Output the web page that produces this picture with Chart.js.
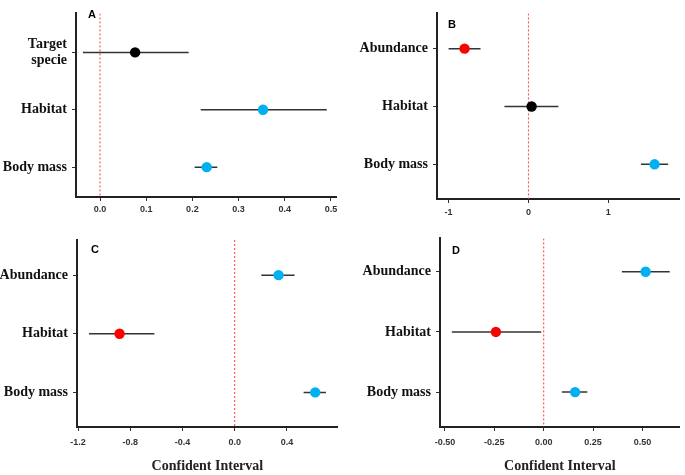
<!DOCTYPE html>
<html><head><meta charset="utf-8">
<script src="https://cdn.jsdelivr.net/npm/chart.js@4.4.0/dist/chart.umd.min.js"></script>
<style>
html,body{margin:0;padding:0;background:#fff;}
#wrap{position:relative;width:685px;height:475px;overflow:hidden;background:#fff;}
canvas{position:absolute;}
</style></head><body>
<div id="wrap">
<canvas id="cA" style="left:0;top:0" width="343" height="225"></canvas>
<canvas id="cB" style="left:343px;top:0" width="342" height="225"></canvas>
<canvas id="cC" style="left:0;top:225px" width="343" height="250"></canvas>
<canvas id="cD" style="left:343px;top:225px" width="342" height="250"></canvas>
</div>
<script>
// ---- Panel A ----
const catsA = ['Target specie', 'Habitat', 'Body mass'];
const estA = [0.076, 0.353, 0.231];
const lowA = [-0.037, 0.218, 0.205];
const highA = [0.192, 0.491, 0.254];
const colA = ['#000000', '#00B0F0', '#00B0F0'];
const ticksA = [0, 0.1, 0.2, 0.3, 0.4, 0.5];
const tickLabelsA = ['0.0', '0.1', '0.2', '0.3', '0.4', '0.5'];

// ---- Panel B ----
const catsB = ['Abundance', 'Habitat', 'Body mass'];
const estB = [-0.80, 0.04, 1.58];
const lowB = [-1.00, -0.30, 1.41];
const highB = [-0.60, 0.375, 1.75];
const colB = ['#FF0000', '#000000', '#00B0F0'];
const ticksB = [-1, 0, 1];
const tickLabelsB = ['-1', '0', '1'];

// ---- Panel C ----
const catsC = ['Abundance', 'Habitat', 'Body mass'];
const estC = [0.336, -0.882, 0.617];
const lowC = [0.204, -1.116, 0.528];
const highC = [0.459, -0.615, 0.699];
const colC = ['#00B0F0', '#FF0000', '#00B0F0'];
const ticksC = [-1.2, -0.8, -0.4, 0.0, 0.4];
const tickLabelsC = ['-1.2', '-0.8', '-0.4', '0.0', '0.4'];

// ---- Panel D ----
const catsD = ['Abundance', 'Habitat', 'Body mass'];
const estD = [0.516, -0.242, 0.159];
const lowD = [0.396, -0.465, 0.092];
const highD = [0.638, -0.013, 0.221];
const colD = ['#00B0F0', '#FF0000', '#00B0F0'];
const ticksD = [-0.50, -0.25, 0.00, 0.25, 0.50];
const tickLabelsD = ['-0.50', '-0.25', '0.00', '0.25', '0.50'];

const xTitle = 'Confident Interval';

const letterPlugin = {
  id: 'panelLetter',
  afterDraw(chart, args, opts) {
    const {ctx, chartArea} = chart;
    ctx.save();
    ctx.font = 'bold 11px "Liberation Sans", Arial, sans-serif';
    ctx.fillStyle = '#000';
    ctx.textAlign = 'left';
    ctx.textBaseline = 'alphabetic';
    ctx.fillText(opts.text, chartArea.left + opts.dx, chartArea.top + opts.dy);
    ctx.restore();
  }
};

function wrapLabel(s) {
  return s.length > 10 ? s.split(' ') : s;
}

function makePanel(id, d, L) {
  const datasets = [];
  datasets.push({
    data: d.est.map((v, i) => ({x: v, y: i + 1})),
    pointRadius: 5.2,
    pointHoverRadius: 5.2,
    pointBackgroundColor: d.col,
    pointBorderColor: d.col,
    pointBorderWidth: 0,
    showLine: false,
    order: 0
  });
  d.est.forEach((v, i) => {
    datasets.push({
      data: [{x: d.low[i], y: i + 1}, {x: d.high[i], y: i + 1}],
      showLine: true,
      borderColor: '#333333',
      borderWidth: 1.5,
      pointRadius: 0,
      order: 1
    });
  });
  datasets.push({
    data: [{x: 0, y: L.yMin}, {x: 0, y: L.yMax}],
    showLine: true,
    borderColor: '#FF3B3B',
    borderWidth: 1,
    borderDash: [2, 2],
    pointRadius: 0,
    order: 2
  });

  new Chart(document.getElementById(id), {
    type: 'scatter',
    data: {datasets},
    options: {
      responsive: false,
      animation: false,
      events: [],
      layout: {padding: L.padding},
      plugins: {
        legend: {display: false},
        tooltip: {enabled: false},
        panelLetter: {text: L.letter, dx: L.ldx, dy: L.ldy}
      },
      scales: {
        x: {
          type: 'linear',
          min: L.xMin, max: L.xMax,
          afterBuildTicks: (s) => { s.ticks = d.ticks.map(v => ({value: v})); },
          afterFit: (s) => { s.height = L.xHeight; },
          grid: {display: true, drawOnChartArea: false, drawTicks: true, tickLength: 4, color: '#333', lineWidth: 1},
          border: {display: true, color: '#222', width: 2},
          ticks: {
            autoSkip: false, maxRotation: 0,
            padding: L.xPad,
            color: '#333',
            font: {family: '"Liberation Sans", Arial, sans-serif', size: 9, weight: 'bold'},
            callback: (v, i) => d.tickLabels[i]
          },
          title: {
            display: !!L.title, text: L.title || '',
            color: '#222',
            font: {family: '"Liberation Serif", "Times New Roman", serif', size: 14, weight: 'bold'},
            padding: {top: 0, bottom: 0}
          }
        },
        y: {
          type: 'linear',
          reverse: true,
          min: L.yMin, max: L.yMax,
          afterBuildTicks: (s) => { s.ticks = d.cats.map((c, i) => ({value: i + 1})); },
          afterFit: (s) => { s.width = L.yWidth; },
          grid: {display: true, drawOnChartArea: false, drawTicks: true, tickLength: 4, color: '#333', lineWidth: 1},
          border: {display: true, color: '#222', width: 2},
          ticks: {
            autoSkip: false,
            padding: 5,
            color: '#111',
            font: {family: '"Liberation Serif", "Times New Roman", serif', size: 14, weight: 'bold', lineHeight: 1.2},
            callback: (v) => wrapLabel(d.cats[Math.round(v) - 1])
          }
        }
      }
    },
    plugins: [letterPlugin]
  });
}

makePanel('cA',
  {cats: catsA, est: estA, low: lowA, high: highA, col: colA, ticks: ticksA, tickLabels: tickLabelsA},
  {xMin: -0.052, xMax: 0.511, yMin: 0.32, yMax: 3.52, yWidth: 76, xHeight: 28, xPad: 3,
   padding: {top: 5, right: 7, bottom: 0, left: 0}, letter: 'A', ldx: 12, ldy: 5});
makePanel('cB',
  {cats: catsB, est: estB, low: lowB, high: highB, col: colB, ticks: ticksB, tickLabels: tickLabelsB},
  {xMin: -1.145, xMax: 1.896, yMin: 0.39, yMax: 3.6, yWidth: 94, xHeight: 26, xPad: 4,
   padding: {top: 5, right: 5, bottom: 0, left: 0}, letter: 'B', ldx: 11, ldy: 15});
makePanel('cC',
  {cats: catsC, est: estC, low: lowC, high: highC, col: colC, ticks: ticksC, tickLabels: tickLabelsC},
  {xMin: -1.208, xMax: 0.79, yMin: 0.4, yMax: 3.59, yWidth: 77, xHeight: 48, xPad: 6, title: xTitle,
   padding: {top: 15, right: 5, bottom: 0, left: 0}, letter: 'C', ldx: 14, ldy: 13});
makePanel('cD',
  {cats: catsD, est: estD, low: lowD, high: highD, col: colD, ticks: ticksD, tickLabels: tickLabelsD},
  {xMin: -0.525, xMax: 0.689, yMin: 0.445, yMax: 3.58, yWidth: 97, xHeight: 48, xPad: 6, title: xTitle,
   padding: {top: 12, right: 3, bottom: 0, left: 0}, letter: 'D', ldx: 12, ldy: 16});
</script>
</body></html>
